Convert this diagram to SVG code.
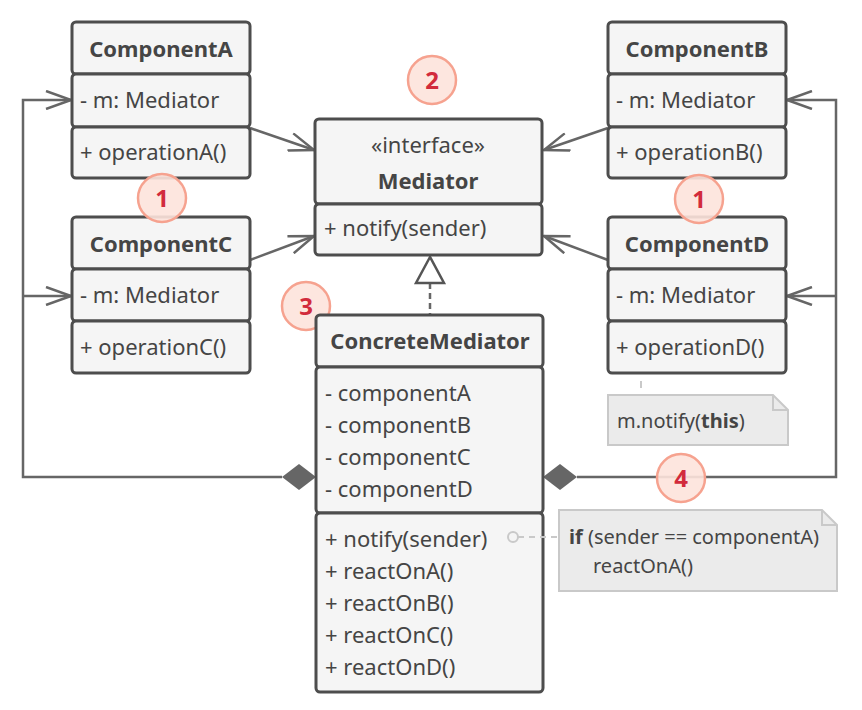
<svg xmlns="http://www.w3.org/2000/svg" width="862" height="710" viewBox="0 0 862 710">
<defs>
<style>
.box{fill:#f5f5f5;stroke:#4d4d4d;stroke-width:3}
.t{font-family:"Noto Sans","Open Sans",sans-serif;font-size:22px;fill:#454545}
.b{font-weight:bold}
.c{text-anchor:middle}
.n{font-size:20px}
.con{fill:none;stroke:#666;stroke-width:2.5}
.note{fill:#ebebeb;stroke:#c9c9c9;stroke-width:2}
.badge{fill:#fde3dc;fill-opacity:0.9;stroke:#f6a28f;stroke-width:2.5}
.bt{font-family:"Noto Sans","Open Sans",sans-serif;font-size:24px;font-weight:bold;fill:#d22b3c;text-anchor:middle}
</style>
<marker id="open" viewBox="0 0 27 20" refX="26" refY="10" markerWidth="27" markerHeight="20" markerUnits="userSpaceOnUse" orient="auto">
<path d="M1,1 L26,10 L1,19" fill="none" stroke="#666" stroke-width="2.5"/>
</marker>
</defs>

<g id="connectors">
<line class="con" x1="250" y1="128" x2="314" y2="150" marker-end="url(#open)"/>
<line class="con" x1="250" y1="260" x2="314" y2="236" marker-end="url(#open)"/>
<line class="con" x1="608" y1="128" x2="544" y2="150" marker-end="url(#open)"/>
<line class="con" x1="608" y1="260" x2="544" y2="236" marker-end="url(#open)"/>
<polyline class="con" points="282,477 23,477 23,100 71,100" marker-end="url(#open)"/>
<line class="con" x1="23" y1="296" x2="71" y2="296" marker-end="url(#open)"/>
<polyline class="con" points="577,477 836,477 836,100 787,100" marker-end="url(#open)"/>
<line class="con" x1="836" y1="296" x2="787" y2="296" marker-end="url(#open)"/>
<polygon points="282,477 299,464 316,477 299,490" fill="#666"/>
<polygon points="543,477 560,464 577,477 560,490" fill="#666"/>
<line x1="430" y1="283" x2="430" y2="315" stroke="#666" stroke-width="2.5" stroke-dasharray="6,4"/>
<polygon points="430,257 416,283 444,283" fill="#fff" stroke="#555" stroke-width="2.5"/>
<line x1="641" y1="381" x2="641" y2="388" stroke="#c9c9c9" stroke-width="2"/>
</g>

<g id="badge3"><circle class="badge" cx="306" cy="306" r="24"/><text class="bt" x="306" y="315">3</text></g>

<g id="componentA">
<rect class="box" x="72" y="22" width="178" height="52" rx="4"/>
<rect class="box" x="72" y="74" width="178" height="53" rx="4"/>
<rect class="box" x="72" y="127" width="178" height="51" rx="4"/>
<text class="t b c" x="161" y="57">ComponentA</text>
<text class="t" x="80" y="108">- m: Mediator</text>
<text class="t" x="80" y="160">+ operationA()</text>
</g>

<g id="componentC">
<rect class="box" x="72" y="217" width="178" height="52" rx="4"/>
<rect class="box" x="72" y="269" width="178" height="52" rx="4"/>
<rect class="box" x="72" y="321" width="178" height="52" rx="4"/>
<text class="t b c" x="161" y="252">ComponentC</text>
<text class="t" x="80" y="303">- m: Mediator</text>
<text class="t" x="80" y="355">+ operationC()</text>
</g>

<g id="componentB">
<rect class="box" x="608" y="22" width="178" height="52" rx="4"/>
<rect class="box" x="608" y="74" width="178" height="53" rx="4"/>
<rect class="box" x="608" y="127" width="178" height="51" rx="4"/>
<text class="t b c" x="697" y="57">ComponentB</text>
<text class="t" x="616" y="108">- m: Mediator</text>
<text class="t" x="616" y="160">+ operationB()</text>
</g>

<g id="componentD">
<rect class="box" x="608" y="217" width="178" height="52" rx="4"/>
<rect class="box" x="608" y="269" width="178" height="52" rx="4"/>
<rect class="box" x="608" y="321" width="178" height="52" rx="4"/>
<text class="t b c" x="697" y="252">ComponentD</text>
<text class="t" x="616" y="303">- m: Mediator</text>
<text class="t" x="616" y="355">+ operationD()</text>
</g>

<g id="mediator">
<rect class="box" x="315" y="119" width="227" height="85" rx="4"/>
<rect class="box" x="315" y="204" width="227" height="51" rx="4"/>
<text class="t c" x="428" y="153">«interface»</text>
<text class="t b c" x="428" y="189">Mediator</text>
<text class="t" x="324" y="236">+ notify(sender)</text>
</g>

<g id="concreteMediator">
<rect class="box" x="316" y="315" width="227" height="52" rx="4"/>
<rect class="box" x="316" y="367" width="227" height="146" rx="4"/>
<rect class="box" x="316" y="513" width="227" height="179" rx="4"/>
<text class="t b c" x="430" y="349">ConcreteMediator</text>
<text class="t" x="325" y="401">- componentA</text>
<text class="t" x="325" y="433">- componentB</text>
<text class="t" x="325" y="465">- componentC</text>
<text class="t" x="325" y="497">- componentD</text>
<text class="t" x="325" y="547">+ notify(sender)</text>
<text class="t" x="325" y="579">+ reactOnA()</text>
<text class="t" x="325" y="611">+ reactOnB()</text>
<text class="t" x="325" y="643">+ reactOnC()</text>
<text class="t" x="325" y="675">+ reactOnD()</text>
</g>

<g id="note-link">
<circle cx="513" cy="537" r="5" fill="none" stroke="#c9c9c9" stroke-width="2"/>
<line x1="518" y1="537" x2="560" y2="537" stroke="#c9c9c9" stroke-width="2" stroke-dasharray="6,5"/>
</g>

<g id="note1">
<path class="note" d="M608,395 L773,395 L788,410 L788,445 L608,445 Z"/>
<path d="M773,395 L773,410 L788,410" fill="none" stroke="#c9c9c9" stroke-width="2"/>
<text class="t n" x="617" y="428">m.notify(<tspan class="b">this</tspan>)</text>
</g>

<g id="note2">
<path class="note" d="M559,510 L822,510 L837,525 L837,591 L559,591 Z"/>
<path d="M822,510 L822,525 L837,525" fill="none" stroke="#c9c9c9" stroke-width="2"/>
<text class="t n" x="569" y="544"><tspan class="b">if</tspan> (sender == componentA)</text>
<text class="t n" x="593" y="573">reactOnA()</text>
</g>

<g id="badge1a"><circle class="badge" cx="162" cy="198" r="24"/><text class="bt" x="162" y="207">1</text></g>
<g id="badge1b"><circle class="badge" cx="699" cy="199" r="24"/><text class="bt" x="699" y="208">1</text></g>
<g id="badge2"><circle class="badge" cx="432" cy="80" r="24"/><text class="bt" x="432" y="89">2</text></g>
<g id="badge4"><circle class="badge" cx="681" cy="478" r="24" fill-opacity="0.75"/><text class="bt" x="681" y="487">4</text></g>
</svg>
